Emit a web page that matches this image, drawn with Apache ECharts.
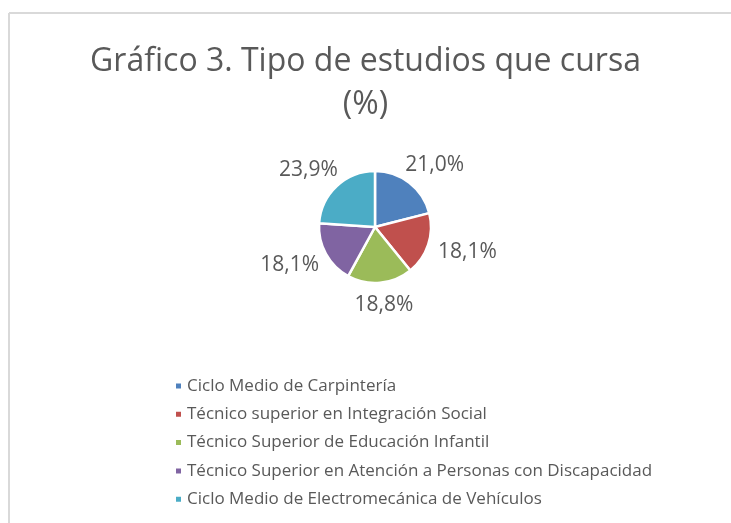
<!DOCTYPE html>
<html>
<head>
<meta charset="utf-8">
<script src="https://cdn.jsdelivr.net/npm/echarts@6/dist/echarts.min.js"></script>
<style>html,body{margin:0;padding:0;background:#fff}#c{width:731px;height:523px}</style>
</head>
<body>
<div id="c"></div>
<script>
const titleText = 'Gráfico 3. Tipo de estudios que cursa\n(%)';
const categories = [
  'Ciclo Medio de Carpintería',
  'Técnico superior en Integración Social',
  'Técnico Superior de Educación Infantil',
  'Técnico Superior en Atención a Personas con Discapacidad',
  'Ciclo Medio de Electromecánica de Vehículos'
];
const values = [21.0, 18.1, 18.8, 18.1, 23.9];
const colors = ['#4F81BD', '#C0504D', '#9BBB59', '#8064A2', '#4BACC6'];

const CX = 375, CY = 227, R = 56, GAP = 12;
const total = values.reduce((a, b) => a + b, 0);
// mid-angle (clockwise from 12 o'clock) of each slice, from the data
const midAngles = [];
{ let acc = 0; values.forEach(v => { midAngles.push((acc + v / 2) / total * 2 * Math.PI); acc += v; }); }

const chart = echarts.init(document.getElementById('c'), null, {renderer: 'canvas'});
const FONT = '"Open Sans", sans-serif';
chart.setOption({
  animation: false,
  color: colors,
  title: {
    text: titleText,
    left: 'center',
    top: 35,
    textStyle: {fontFamily: FONT, fontSize: 32, fontWeight: 'normal', color: '#595959', lineHeight: 43}
  },
  legend: {
    orient: 'vertical',
    left: 169,
    top: 372,
    icon: 'rect',
    itemWidth: 7,
    itemHeight: 7,
    itemGap: 10.3,
    textStyle: {fontFamily: FONT, fontSize: 17, color: '#595959', lineHeight: 18},
    data: categories
  },
  graphic: [
    {type: 'line', silent: true, shape: {x1: 9, y1: 13, x2: 731, y2: 13}, style: {stroke: '#d9d9d9', lineWidth: 2}},
    {type: 'line', silent: true, shape: {x1: 9, y1: 13, x2: 9, y2: 523}, style: {stroke: '#d9d9d9', lineWidth: 2}}
  ],
  series: [{
    type: 'pie',
    center: [CX, CY],
    radius: R,
    startAngle: 90,
    clockwise: true,
    avoidLabelOverlap: false,
    itemStyle: {borderColor: '#fff', borderWidth: 2.5},
    label: {
      show: true,
      position: 'outside',
      formatter: p => p.value.toFixed(1).replace('.', ',') + '%',
      fontFamily: FONT,
      fontSize: 21,
      color: '#595959'
    },
    labelLine: {show: false, length: 10, length2: 0},
    labelLayout: function (params) {
      const a = midAngles[params.dataIndex];
      const dx = Math.sin(a), dy = -Math.cos(a);
      const w = params.labelRect.width, h = params.labelRect.height;
      return {
        x: CX + dx * (R + GAP) + dx * w / 2,
        y: CY + dy * (R + GAP) + dy * h / 2,
        align: 'center',
        verticalAlign: 'middle'
      };
    },
    data: categories.map((n, i) => ({name: n, value: values[i]}))
  }]
});
</script>
</body>
</html>
